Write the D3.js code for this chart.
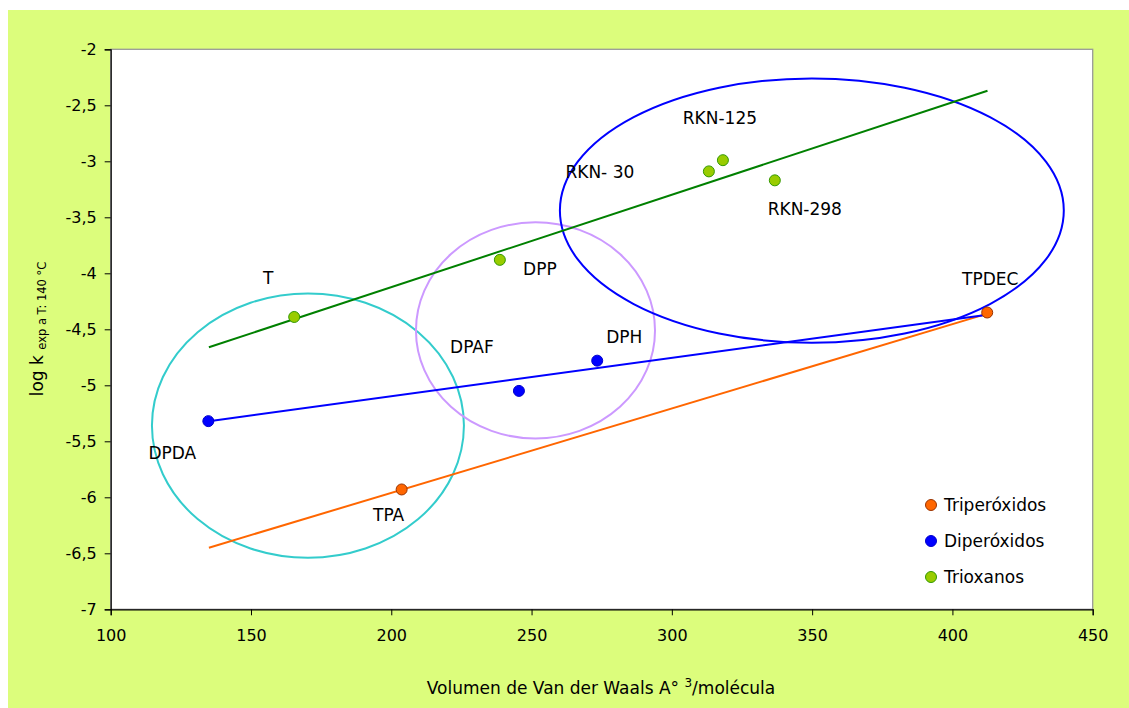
<!DOCTYPE html>
<html><head><meta charset="utf-8">
<script src="https://cdn.jsdelivr.net/npm/d3@7"></script>
<style>html,body{margin:0;padding:0;background:#fff;}svg{display:block;}</style>
</head><body>
<svg id="c" width="1129" height="708"></svg>
<script>
// ---- data ----
const seriesNames = ["Triperóxidos", "Diperóxidos", "Trioxanos"];
const triLabels = ["TPA", "TPDEC"];
const triX = [203.7, 412.4];
const triY = [-5.93, -4.35];
const diLabels = ["DPDA", "DPAF", "DPH"];
const diX = [134.8, 245.5, 273.4];
const diY = [-5.32, -5.05, -4.78];
const trioxLabels = ["T", "DPP", "RKN- 30", "RKN-125", "RKN-298"];
const trioxX = [165.4, 238.7, 313.2, 318.2, 336.7];
const trioxY = [-4.39, -3.88, -3.09, -2.99, -3.17];
// trend lines (start/end)
const trendX = [135, 412.5];
const triTrendY = [-6.45, -4.36];
const diTrendY = [-5.32, -4.37];
const trioxTrendY = [-4.66, -2.37];
// grouping ellipses: center x, center y, radius x, radius y (data units)
const ellCx = [170.3, 251.4, 349.9];
const ellCy = [-5.36, -4.51, -3.44];
const ellRx = [55.6, 42.6, 89.8];
const ellRy = [1.18, 0.965, 1.18];
const xTicks = [100, 150, 200, 250, 300, 350, 400, 450];
const yTicks = [-2, -2.5, -3, -3.5, -4, -4.5, -5, -5.5, -6, -6.5, -7];

// ---- styling ----
const colors = {fill: ["#ff6600", "#0000ff", "#99cc00"], stroke: ["#993300", "#0000cc", "#339900"], line: ["#ff6600", "#0000ff", "#008000"]};
const ellColors = ["#33cccc", "#cc99ff", "#0000ff"];
const labelFont = "'DejaVu Sans', sans-serif";
const labelSize = 17;

const svg = d3.select("#c");
svg.append("rect").attr("x", 8).attr("y", 10).attr("width", 1121).attr("height", 698).attr("fill", "#dcfd7c");

const L = 110.7, R = 1092.7, T = 49.3, B = 609.3;
const x = d3.scaleLinear().domain([100, 450]).range([L, R]);
const y = d3.scaleLinear().domain([-7, -2]).range([B, T]);

svg.append("rect").attr("x", L).attr("y", T).attr("width", R - L).attr("height", B - T)
  .attr("fill", "#fff").attr("stroke", "#999").attr("stroke-width", 1.3);

// axes
const fmt = d => String(d).replace(".", ",");
const gx = svg.append("g").attr("transform", `translate(0,${B})`)
  .call(d3.axisBottom(x).tickValues(xTicks).tickSize(6).tickPadding(14).tickFormat(d => d));
const gy = svg.append("g").attr("transform", `translate(${L},0)`)
  .call(d3.axisLeft(y).tickValues(yTicks).tickSize(6).tickPadding(8).tickFormat(fmt));
[gx, gy].forEach(g => {
  g.select(".domain").attr("stroke", "#000").attr("stroke-width", 1.2);
  g.selectAll(".tick line").attr("stroke", "#000");
  g.selectAll("text").attr("font-family", "'DejaVu Sans', sans-serif").attr("font-size", 16).attr("fill", "#000");
});

// axis titles
svg.append("text").attr("x", 601).attr("y", 694).attr("text-anchor", "middle")
  .attr("font-family", labelFont).attr("font-size", labelSize)
  .html("Volumen de Van der Waals A° <tspan dy='-7' font-size='12'>3</tspan><tspan dy='7'>/molécula</tspan>");
const yt = svg.append("text").attr("transform", "translate(43,329) rotate(-90)").attr("text-anchor", "middle")
  .attr("font-family", labelFont).attr("fill", "#000");
yt.append("tspan").attr("font-size", 17).text("log k ");
yt.append("tspan").attr("font-size", 11.5).attr("dy", 3).text("exp a T: 140 °C");

// ellipses
const plot = svg.append("g");
plot.selectAll("ellipse.grp").data(ellCx.map((c, i) => i)).enter().append("ellipse")
  .attr("cx", i => x(ellCx[i])).attr("cy", i => y(ellCy[i]))
  .attr("rx", i => x(ellCx[i] + ellRx[i]) - x(ellCx[i]))
  .attr("ry", i => y(ellCy[i] - ellRy[i]) - y(ellCy[i]))
  .attr("fill", "none").attr("stroke", i => ellColors[i]).attr("stroke-width", 2);

// trend lines
const trends = [triTrendY, diTrendY, trioxTrendY];
const line = d3.line().x(d => x(d[0])).y(d => y(d[1]));
trends.forEach((ty, i) => {
  plot.append("path").attr("d", line(trendX.map((xv, j) => [xv, ty[j]])))
    .attr("fill", "none").attr("stroke", colors.line[i]).attr("stroke-width", 2);
});

// points
const seriesX = [triX, diX, trioxX], seriesY = [triY, diY, trioxY], seriesL = [triLabels, diLabels, trioxLabels];
seriesX.forEach((xs, s) => {
  plot.selectAll(null).data(xs.map((v, i) => [v, seriesY[s][i]])).enter().append("circle")
    .attr("cx", d => x(d[0])).attr("cy", d => y(d[1])).attr("r", 5.5)
    .attr("fill", colors.fill[s]).attr("stroke", colors.stroke[s]).attr("stroke-width", 1);
});

// point labels (pixel offsets from the point)
const labelOffsets = {
  "TPA": [-13, 26], "TPDEC": [3, -34],
  "DPDA": [-36, 32], "DPAF": [-47, -44], "DPH": [27, -24],
  "T": [-26, -39], "DPP": [40, 9], "RKN- 30": [-109, 1], "RKN-125": [-3, -42], "RKN-298": [30, 29]
};
seriesX.forEach((xs, s) => {
  xs.forEach((v, i) => {
    const name = seriesL[s][i], o = labelOffsets[name];
    plot.append("text").attr("x", x(v) + o[0]).attr("y", y(seriesY[s][i]) + o[1])
      .attr("text-anchor", "middle").attr("dominant-baseline", "central")
      .attr("font-family", labelFont).attr("font-size", labelSize).attr("fill", "#000").text(name);
  });
});

// legend
const lg = svg.append("g");
seriesNames.forEach((n, i) => {
  const yy = 505 + i * 36;
  lg.append("circle").attr("cx", 931).attr("cy", yy).attr("r", 5.5)
    .attr("fill", colors.fill[i]).attr("stroke", colors.stroke[i]).attr("stroke-width", 1);
  lg.append("text").attr("x", 944).attr("y", yy).attr("dominant-baseline", "central")
    .attr("font-family", labelFont).attr("font-size", labelSize).attr("fill", "#000").text(n);
});
</script>
</body></html>
